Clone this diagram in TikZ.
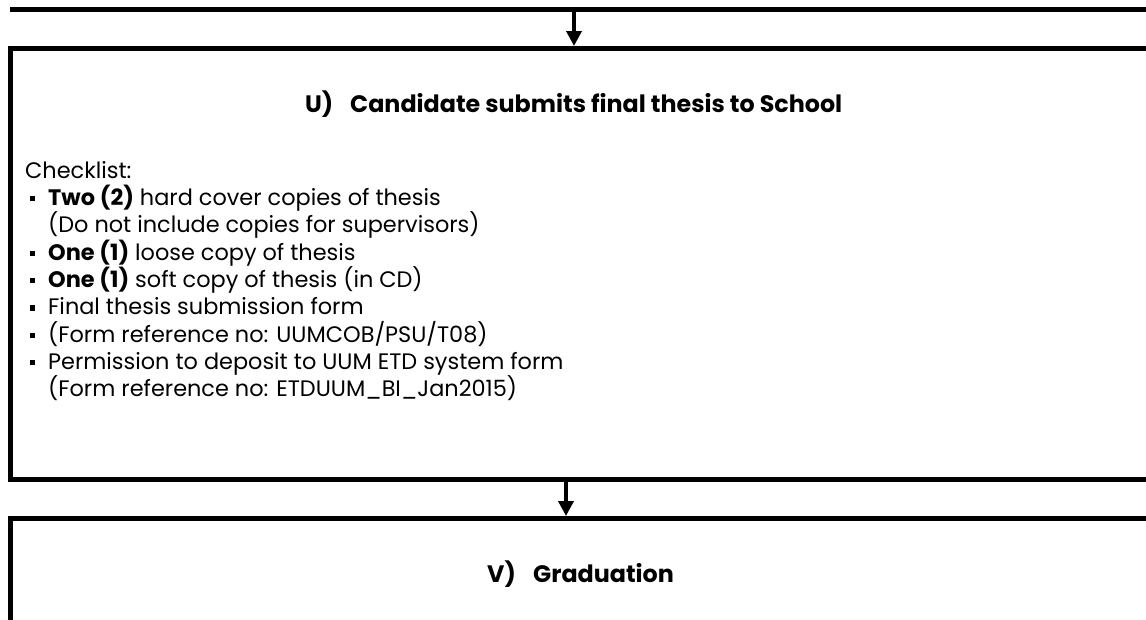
\documentclass[tikz,border=0pt]{standalone}
\usepackage{fontspec}
\setmainfont{Poppins}
\usetikzlibrary{arrows.meta}
\newcommand\bodysize{\fontsize{22.4}{27}\selectfont}
\newcommand\headsize{\fontsize{23.8}{29}\selectfont}
\begin{document}
\begin{tikzpicture}[x=1pt,y=-1pt,
  frame/.style={draw, line width=5pt, inner sep=0pt, outer sep=2.5pt},
  rule/.style={line width=5pt},
  flow/.style={line width=3.5pt, -{Triangle[length=15pt,width=15pt]}},
  txt/.style={anchor=base west, inner sep=0pt, font=\bodysize},
  head/.style={anchor=base west, inner sep=0pt, font=\headsize\bfseries},
  bul/.style={fill, minimum size=5.5pt, inner sep=0pt}]
\useasboundingbox (0,0) rectangle (1146,619);
% bottom edge of the previous step
\coordinate (prevL) at (10,9.5);
\coordinate (prevR) at (1160,9.5);
\draw[rule] (prevL) -- (prevR);
% boxes
\node[frame, minimum width=1160pt, minimum height=431pt] (boxU) at (590,264) {};
\node[frame, minimum width=1160pt, minimum height=200pt] (boxV) at (590,618.5) {};
% connectors
\coordinate (a1) at (574,12);
\draw[flow] (a1) -- (a1 |- boxU.north);
\coordinate (a2x) at (566,0);
\draw[flow] (boxU.south -| a2x) -- (boxV.north -| a2x);
% headings
\node[head] (hU) at (305,112.5) {\makebox[45pt][l]{U)}Candidate submits final thesis to School};
\node[head] (hV) at (487,582) {\makebox[46pt][l]{V)}Graduation};
% checklist
\node[txt] (c0) at (25,178) {Checklist:};
\node[txt] (c1) at (48,205) {\textbf{Two (2)} hard cover copies of thesis};
\node[txt] (c2) at (48,232.5) {(Do not include copies for supervisors)};
\node[txt] (c3) at (48,260) {\textbf{One (1)} loose copy of thesis};
\node[txt] (c4) at (48,287) {\textbf{One (1)} soft copy of thesis (in CD)};
\node[txt] (c5) at (48,314.5) {Final thesis submission form};
\node[txt] (c6) at (48,342) {(Form reference no: UUMCOB/PSU/T08)};
\node[txt] (c7) at (48,369) {Permission to deposit to UUM ETD system form};
\node[txt] (c8) at (48,396.5) {(Form reference no: ETDUUM\_BI\_Jan2015)};
\foreach \n in {c1,c3,c4,c5,c6,c7}
  \node[bul] at ([yshift=6.5pt]\n.base -| 32.5,0) {};
\end{tikzpicture}
\end{document}
